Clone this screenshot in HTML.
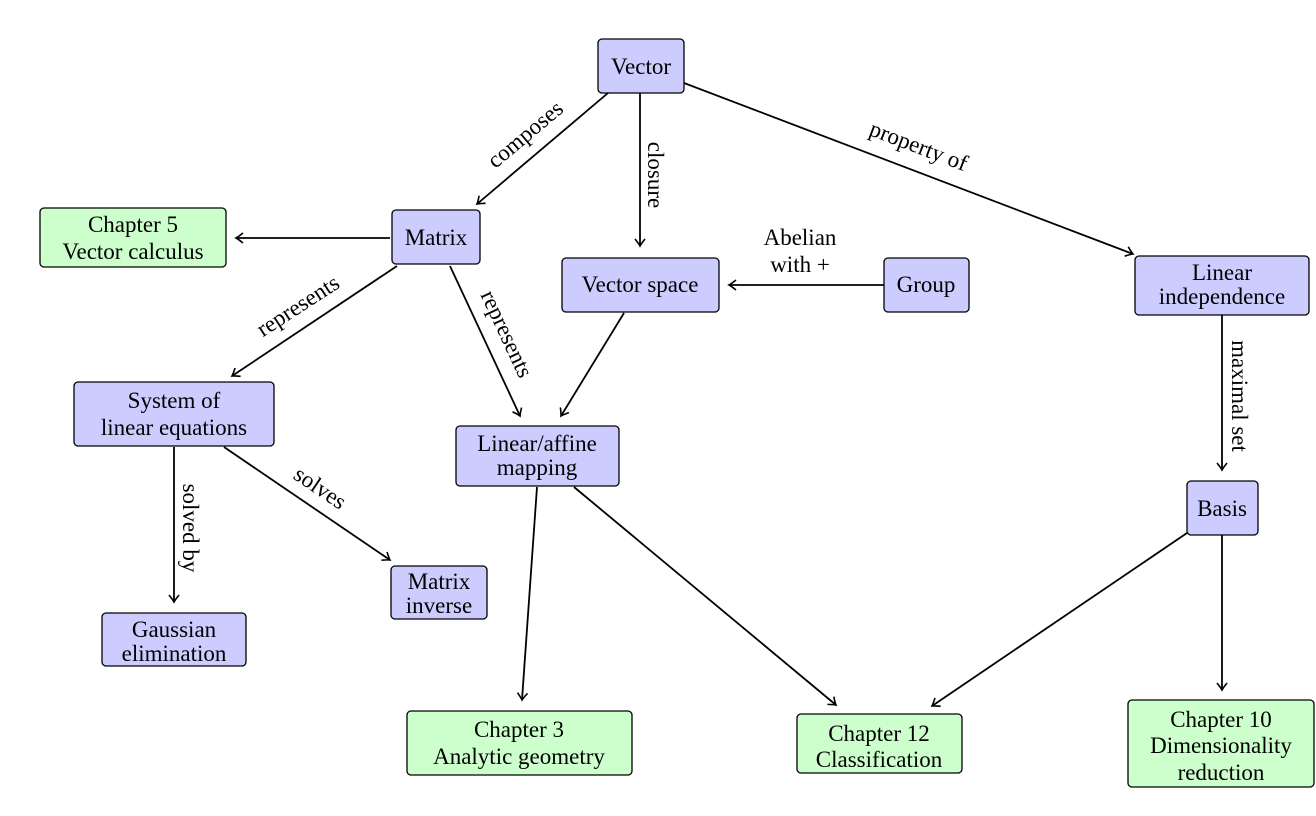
<!DOCTYPE html>
<html><head><meta charset="utf-8"><style>
html,body{margin:0;padding:0;background:#fff;}
svg{display:block;}
text{font-family:"Liberation Serif",serif;font-size:23px;fill:#000;}
</style></head><body>
<svg width="1316" height="816" viewBox="0 0 1316 816" xmlns="http://www.w3.org/2000/svg">
<defs>
<marker id="a" viewBox="-8 -6 10 12" markerWidth="10" markerHeight="12" refX="0" refY="0" orient="auto" markerUnits="userSpaceOnUse">
<path d="M-7,-5 Q-2,-1 0,0 Q-2,1 -7,5" fill="none" stroke="#000" stroke-width="1.6"/>
</marker>
</defs>
<g stroke="#000" stroke-width="1.8" fill="none" marker-end="url(#a)">
<line x1="608" y1="93" x2="477" y2="204"/>
<line x1="640" y1="93" x2="640" y2="246"/>
<line x1="684" y1="83" x2="1133" y2="254"/>
<line x1="390" y1="238" x2="236" y2="238"/>
<line x1="397" y1="266" x2="232" y2="376"/>
<line x1="450" y1="266" x2="520" y2="416"/>
<line x1="624" y1="313" x2="561" y2="416"/>
<line x1="884" y1="285" x2="729" y2="285"/>
<line x1="1222" y1="315" x2="1222" y2="470"/>
<line x1="174" y1="447" x2="174" y2="602"/>
<line x1="224" y1="447" x2="390" y2="560"/>
<line x1="537" y1="487" x2="522" y2="700"/>
<line x1="574" y1="487" x2="836" y2="705"/>
<line x1="1187" y1="533" x2="932" y2="706"/>
<line x1="1222" y1="535" x2="1222" y2="690"/>
</g>
<g stroke="#000" stroke-width="1.3">
<rect x="598" y="39" width="86" height="54" rx="4" fill="#ccccff"/>
<rect x="392" y="210" width="88" height="54" rx="4" fill="#ccccff"/>
<rect x="40" y="208" width="186" height="59" rx="4" fill="#ccffcc"/>
<rect x="562" y="258" width="157" height="54" rx="4" fill="#ccccff"/>
<rect x="884" y="258" width="85" height="54" rx="4" fill="#ccccff"/>
<rect x="1135" y="256" width="174" height="59" rx="4" fill="#ccccff"/>
<rect x="74" y="382" width="200" height="64" rx="4" fill="#ccccff"/>
<rect x="456" y="426" width="163" height="60" rx="4" fill="#ccccff"/>
<rect x="1187" y="481" width="71" height="54" rx="4" fill="#ccccff"/>
<rect x="391" y="566" width="96" height="53" rx="4" fill="#ccccff"/>
<rect x="102" y="613" width="144" height="53" rx="4" fill="#ccccff"/>
<rect x="407" y="711" width="225" height="64" rx="4" fill="#ccffcc"/>
<rect x="797" y="714" width="165" height="59" rx="4" fill="#ccffcc"/>
<rect x="1128" y="700" width="186" height="87" rx="4" fill="#ccffcc"/>
</g>
<g text-anchor="middle">
<text x="641" y="74">Vector</text>
<text x="436" y="245">Matrix</text>
<text x="133" y="232">Chapter 5</text>
<text x="133" y="259">Vector calculus</text>
<text x="640" y="292">Vector space</text>
<text x="926" y="292">Group</text>
<text x="1222" y="280">Linear</text>
<text x="1222" y="304">independence</text>
<text x="174" y="408">System of</text>
<text x="174" y="435">linear equations</text>
<text x="537" y="451">Linear/affine</text>
<text x="537" y="475">mapping</text>
<text x="1222" y="516">Basis</text>
<text x="439" y="589">Matrix</text>
<text x="439" y="613">inverse</text>
<text x="174" y="637">Gaussian</text>
<text x="174" y="661">elimination</text>
<text x="519" y="737">Chapter 3</text>
<text x="519" y="764">Analytic geometry</text>
<text x="879" y="741">Chapter 12</text>
<text x="879" y="767">Classification</text>
<text x="1221" y="727">Chapter 10</text>
<text x="1221" y="753">Dimensionality</text>
<text x="1221" y="780">reduction</text>
<text x="800" y="245">Abelian</text>
<text x="800" y="272">with +</text>
<text transform="translate(530,140) rotate(-40)">composes</text>
<text transform="translate(648,175) rotate(90)">closure</text>
<text transform="translate(916,153) rotate(21)">property of</text>
<text transform="translate(302,312) rotate(-33)">represents</text>
<text transform="translate(500,337) rotate(65)">represents</text>
<text transform="translate(1232,396) rotate(90)">maximal set</text>
<text transform="translate(183,528) rotate(90)">solved by</text>
<text transform="translate(316,494) rotate(34)">solves</text>
</g>
</svg>
</body></html>
